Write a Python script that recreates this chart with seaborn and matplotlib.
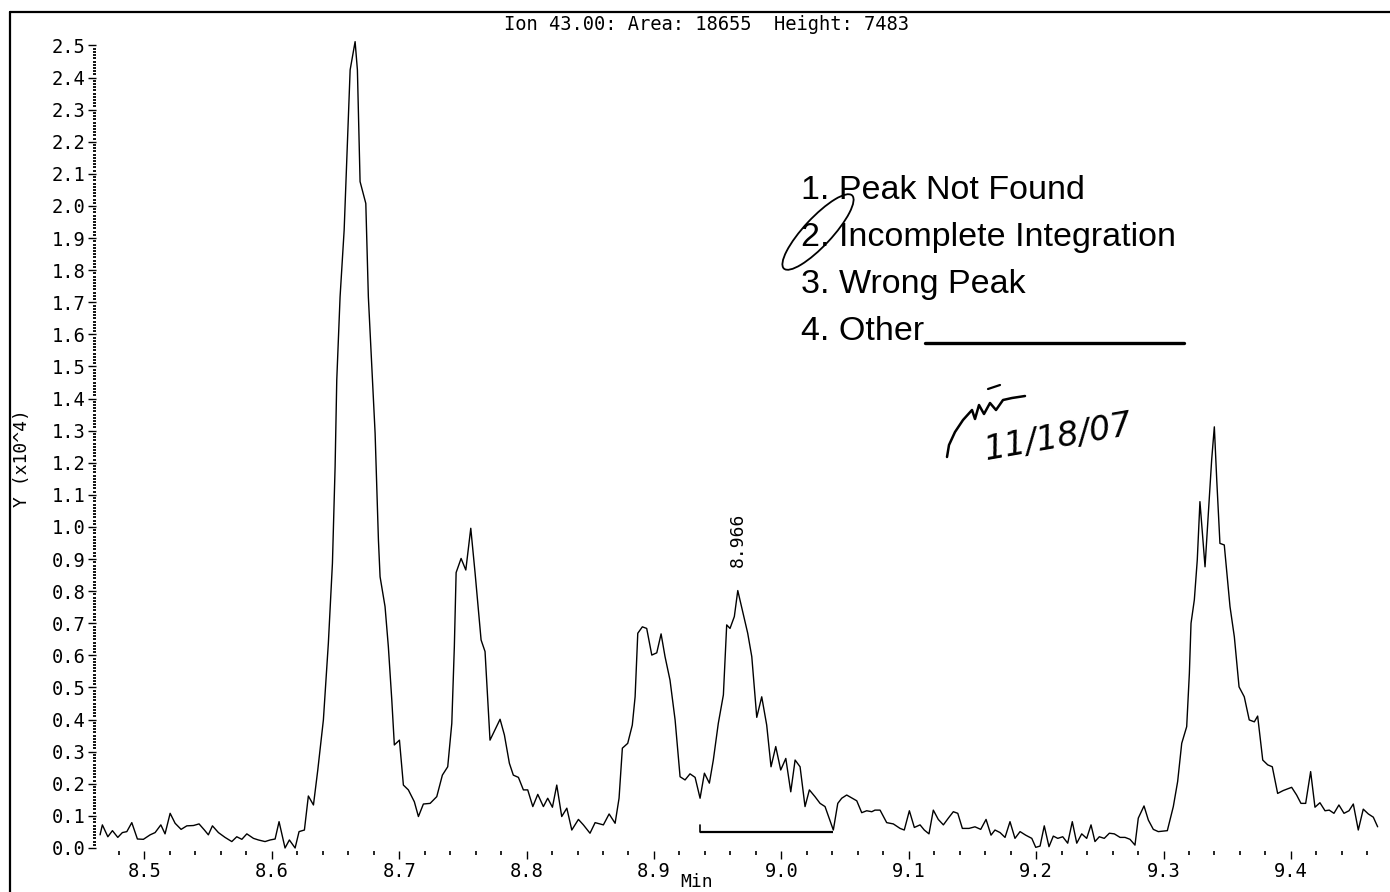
import matplotlib
matplotlib.use("Agg")
import matplotlib.pyplot as plt
import seaborn as sns
import pandas as pd
import numpy as np
from matplotlib.ticker import FixedLocator, MultipleLocator, FormatStrFormatter
from matplotlib.patches import Ellipse
from matplotlib.lines import Line2D

# ---------------- data ----------------
rt_min = [
    8.4652, 8.4670, 8.4713, 8.4749, 8.4791, 8.4827, 8.4862, 8.4901, 8.4945, 8.4992,
    8.5045, 8.5084, 8.5129, 8.5162, 8.5202, 8.5241, 8.5288, 8.5333, 8.5385, 8.5429,
    8.5471, 8.5502, 8.5534, 8.5581, 8.5633, 8.5686, 8.5725, 8.5765, 8.5804, 8.5856,
    8.5895, 8.5947, 8.5987, 8.6026, 8.6057, 8.6104, 8.6138, 8.6183, 8.6214, 8.6256,
    8.6287, 8.6327, 8.6361, 8.6405, 8.6444, 8.6476, 8.6497, 8.6510, 8.6536, 8.6568,
    8.6615, 8.6654, 8.6672, 8.6683, 8.6693, 8.6738, 8.6758, 8.6790, 8.6811, 8.6837,
    8.6850, 8.6889, 8.6915, 8.6942, 8.6962, 8.7002, 8.7033, 8.7072, 8.7119, 8.7151,
    8.7190, 8.7243, 8.7295, 8.7339, 8.7381, 8.7413, 8.7433, 8.7447, 8.7486, 8.7523,
    8.7562, 8.7596, 8.7643, 8.7674, 8.7713, 8.7792, 8.7826, 8.7865, 8.7896, 8.7936,
    8.7975, 8.8009, 8.8049, 8.8088, 8.8132, 8.8166, 8.8203, 8.8237, 8.8276, 8.8316,
    8.8355, 8.8407, 8.8446, 8.8498, 8.8538, 8.8603, 8.8648, 8.8695, 8.8726, 8.8752,
    8.8794, 8.8830, 8.8852, 8.8873, 8.8909, 8.8943, 8.8983, 8.9022, 8.9056, 8.9087,
    8.9126, 8.9166, 8.9205, 8.9244, 8.9283, 8.9323, 8.9362, 8.9396, 8.9435, 8.9466,
    8.9505, 8.9545, 8.9571, 8.9597, 8.9631, 8.9658, 8.9694, 8.9736, 8.9768, 8.9807,
    8.9846, 8.9885, 8.9919, 8.9956, 8.9995, 9.0035, 9.0074, 9.0108, 9.0147, 9.0186,
    9.0220, 9.0264, 9.0304, 9.0343, 9.0408, 9.0443, 9.0474, 9.0513, 9.0557, 9.0592,
    9.0631, 9.0670, 9.0710, 9.0735, 9.0775, 9.0827, 9.0879, 9.0932, 9.0965, 9.1005,
    9.1044, 9.1089, 9.1122, 9.1159, 9.1193, 9.1232, 9.1272, 9.1311, 9.1350, 9.1385,
    9.1421, 9.1473, 9.1520, 9.1565, 9.1607, 9.1646, 9.1677, 9.1717, 9.1756, 9.1795,
    9.1834, 9.1874, 9.1918, 9.1966, 9.1997, 9.2031, 9.2064, 9.2101, 9.2135, 9.2170,
    9.2209, 9.2248, 9.2284, 9.2319, 9.2358, 9.2397, 9.2431, 9.2462, 9.2496, 9.2535,
    9.2575, 9.2614, 9.2659, 9.2698, 9.2737, 9.2776, 9.2802, 9.2847, 9.2881, 9.2920,
    9.2959, 9.3030, 9.3077, 9.3111, 9.3143, 9.3182, 9.3203, 9.3216, 9.3242, 9.3265,
    9.3286, 9.3326, 9.3352, 9.3378, 9.3399, 9.3418, 9.3443, 9.3477, 9.3522, 9.3556,
    9.3593, 9.3634, 9.3673, 9.3713, 9.3739, 9.3779, 9.3818, 9.3854, 9.3896, 9.3940,
    9.4006, 9.4045, 9.4079, 9.4116, 9.4155, 9.4189, 9.4228, 9.4268, 9.4301, 9.4338,
    9.4377, 9.4417, 9.4456, 9.4490, 9.4529, 9.4568, 9.4608, 9.4647, 9.4681,
]

abundance_x1e4 = [
    0.041, 0.072, 0.035, 0.054, 0.033, 0.048, 0.051, 0.079, 0.028, 0.027,
    0.041, 0.048, 0.072, 0.044, 0.108, 0.077, 0.058, 0.069, 0.070, 0.075,
    0.056, 0.041, 0.069, 0.048, 0.033, 0.020, 0.035, 0.027, 0.044, 0.030,
    0.025, 0.020, 0.025, 0.028, 0.082, 0.000, 0.025, 0.000, 0.051, 0.056,
    0.162, 0.134, 0.243, 0.399, 0.638, 0.887, 1.188, 1.458, 1.717, 1.925,
    2.424, 2.512, 2.424, 2.242, 2.076, 2.008, 1.717, 1.458, 1.292, 0.960,
    0.845, 0.752, 0.627, 0.461, 0.321, 0.336, 0.196, 0.181, 0.144, 0.098,
    0.137, 0.139, 0.160, 0.227, 0.253, 0.388, 0.627, 0.858, 0.902, 0.866,
    0.996, 0.856, 0.648, 0.612, 0.336, 0.401, 0.352, 0.264, 0.227, 0.220,
    0.181, 0.181, 0.129, 0.167, 0.129, 0.155, 0.127, 0.196, 0.098, 0.124,
    0.056, 0.089, 0.072, 0.046, 0.079, 0.072, 0.106, 0.077, 0.155, 0.311,
    0.326, 0.383, 0.471, 0.669, 0.689, 0.684, 0.601, 0.608, 0.667, 0.596,
    0.523, 0.399, 0.222, 0.212, 0.231, 0.220, 0.155, 0.233, 0.202, 0.274,
    0.388, 0.477, 0.695, 0.684, 0.721, 0.802, 0.741, 0.669, 0.596, 0.407,
    0.471, 0.383, 0.253, 0.316, 0.243, 0.279, 0.175, 0.274, 0.253, 0.129,
    0.181, 0.160, 0.139, 0.129, 0.056, 0.139, 0.155, 0.165, 0.155, 0.147,
    0.110, 0.116, 0.113, 0.118, 0.118, 0.079, 0.075, 0.061, 0.056, 0.116,
    0.064, 0.072, 0.056, 0.044, 0.118, 0.089, 0.072, 0.093, 0.113, 0.108,
    0.061, 0.061, 0.066, 0.058, 0.089, 0.040, 0.056, 0.048, 0.033, 0.082,
    0.030, 0.051, 0.040, 0.030, 0.002, 0.006, 0.069, 0.004, 0.037, 0.030,
    0.035, 0.015, 0.082, 0.015, 0.044, 0.030, 0.072, 0.020, 0.035, 0.030,
    0.046, 0.044, 0.033, 0.033, 0.027, 0.009, 0.093, 0.131, 0.087, 0.058,
    0.051, 0.054, 0.129, 0.207, 0.326, 0.378, 0.544, 0.700, 0.773, 0.897,
    1.079, 0.876, 1.043, 1.209, 1.312, 1.146, 0.949, 0.944, 0.752, 0.658,
    0.502, 0.471, 0.399, 0.393, 0.411, 0.274, 0.259, 0.253, 0.170, 0.179,
    0.189, 0.165, 0.139, 0.139, 0.238, 0.127, 0.141, 0.116, 0.118, 0.108,
    0.134, 0.108, 0.116, 0.137, 0.056, 0.121, 0.106, 0.096, 0.066,
]

y_tick_values = [0.0, 0.1, 0.2, 0.3, 0.4, 0.5, 0.6, 0.7, 0.8, 0.9, 1.0, 1.1, 1.2,
                 1.3, 1.4, 1.5, 1.6, 1.7, 1.8, 1.9, 2.0, 2.1, 2.2, 2.3, 2.4, 2.5]
x_tick_values = [8.5, 8.6, 8.7, 8.8, 8.9, 9.0, 9.1, 9.2, 9.3, 9.4]

peak_rt = 8.966
peak_label = "8.966"
baseline_rt = [8.9362, 9.0408]
baseline_y = [0.051, 0.051]
baseline_start_tick = [0.051, 0.072]

title_text = "Ion 43.00: Area: 18655  Height: 7483"
review_items = ["1. Peak Not Found", "2. Incomplete Integration",
                "3. Wrong Peak", "4. Other"]
handwritten_date = "11/18/07"

# ---------------- figure ----------------
sns.set_style("white")
plt.rcParams["font.family"] = ["DejaVu Sans Mono", "DejaVu Sans"]
plt.rcParams["text.color"] = "black"

W, H = 1390, 892
fig = plt.figure(figsize=(W / 100, H / 100), dpi=100)
fig.patch.set_facecolor("white")

ax_left_px, ax_bottom_px, ax_top_px = 96, 851.2, 13.4
ax = fig.add_axes([ax_left_px / W, (H - ax_bottom_px) / H,
                   1 - ax_left_px / W, (ax_bottom_px - ax_top_px) / H])
ax.set_facecolor("white")

df = pd.DataFrame({"Min": rt_min, "Y": abundance_x1e4})
sns.lineplot(data=df, x="Min", y="Y", ax=ax, color="black", lw=1.0,
             estimator=None, sort=False)
for ln in ax.lines:
    ln.set_clip_on(False)

# integration baseline
ax.plot(baseline_rt, baseline_y, color="black", lw=1.6, solid_capstyle="butt")
ax.plot([baseline_rt[0], baseline_rt[0]], baseline_start_tick, color="black", lw=1.2)

# peak retention-time label
ax.text(peak_rt, 0.875, peak_label, rotation=90, ha="center", va="bottom",
        fontsize=13, color="black")

ax.set_xlim(8.462, 9.4778)
ax.set_ylim(-0.01, 2.6)
for s in ax.spines.values():
    s.set_visible(False)

ax.xaxis.set_major_locator(FixedLocator(x_tick_values))
ax.xaxis.set_minor_locator(MultipleLocator(0.02))
ax.yaxis.set_major_locator(FixedLocator(y_tick_values))
ax.yaxis.set_minor_locator(FixedLocator(np.round(np.arange(0, 2.505, 0.01), 2)))
ax.xaxis.set_major_formatter(FormatStrFormatter("%.1f"))
ax.yaxis.set_major_formatter(FormatStrFormatter("%.1f"))

ax.tick_params(axis="y", which="major", left=True, direction="out", length=6,
               width=1.0, pad=1.5, labelsize=13.5, colors="black")
ax.tick_params(axis="y", which="minor", left=True, direction="out", length=2.2,
               width=1.3, colors="black")
ax.tick_params(axis="x", which="major", bottom=True, direction="out", length=5.5,
               width=1.0, pad=2.5, labelsize=13.5, colors="black")
ax.tick_params(axis="x", which="minor", bottom=True, direction="out", length=3,
               width=1.2, colors="black")
ax.set_xlabel("")
ax.set_ylabel("")

# axis titles
fig.text(697 / W, (H - 882) / H, "Min", ha="center", va="center", fontsize=13)
fig.text(22 / W, (H - 458) / H, "Y (x10^4)", rotation=90, ha="center",
         va="center", fontsize=13)

# header
fig.text(706 / W, (H - 24) / H, title_text, ha="center", va="center", fontsize=13.5)

# page frame
fig.add_artist(Line2D([10 / W, 10 / W], [0, (H - 12) / H], transform=fig.transFigure,
                      color="black", lw=1.6))
fig.add_artist(Line2D([10 / W, 1.0], [(H - 12) / H, (H - 12) / H],
                      transform=fig.transFigure, color="black", lw=1.6))

# review stamp
narrow = ["Liberation Sans Narrow", "Liberation Sans", "DejaVu Sans"]
baselines_px = [199, 246, 293, 340]
for item, by in zip(review_items, baselines_px):
    fig.text(801 / W, (H - by) / H, item, ha="left", va="baseline",
             fontsize=24.5, family=narrow)
fig.add_artist(Line2D([925 / W, 1184 / W], [(H - 343) / H, (H - 343) / H],
                      transform=fig.transFigure, color="black", lw=2.4))

# hand-drawn loop around "2"
fig.add_artist(Ellipse((8.18, (H - 232) / 100), 1.0, 0.28, angle=47,
                       transform=fig.dpi_scale_trans, fill=False,
                       edgecolor="black", lw=1.3))

# handwritten initials and date
sx = [947, 949, 955, 963, 972, 975, 979, 984, 990, 996, 1003, 1012, 1025]
sy = [457, 445, 432, 420, 410, 419, 405, 414, 403, 410, 400, 398, 396]
fig.add_artist(Line2D([v / W for v in sx], [(H - v) / H for v in sy],
                      transform=fig.transFigure, color="black", lw=1.8))
fig.add_artist(Line2D([988 / W, 1000 / W], [(H - 389) / H, (H - 385) / H],
                      transform=fig.transFigure, color="black", lw=1.6))
fig.text(1058 / W, (H - 438) / H, handwritten_date, ha="center", va="center",
         fontsize=24, style="italic", rotation=10, family=["DejaVu Sans"])

fig.savefig("out.png", dpi=100, facecolor="white")
